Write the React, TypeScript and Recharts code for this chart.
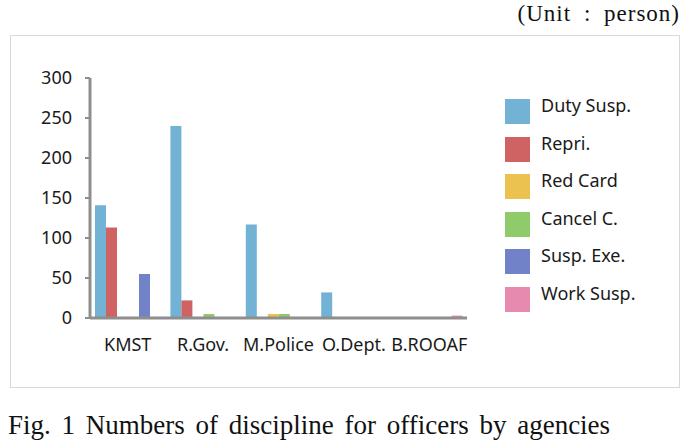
import React from 'react';
import { Bar, BarChart, XAxis, YAxis } from 'recharts';

const categories = ['KMST', 'R.Gov.', 'M.Police', 'O.Dept.', 'B.ROOAF'];
const dutySusp = [141, 240, 117, 32, 0];
const repri = [113, 22, 0, 0, 0];
const redCard = [0, 0, 5, 0, 0];
const cancelC = [0, 5, 5, 0, 0];
const suspExe = [55, 0, 0, 0, 0];
const workSusp = [0, 0, 0, 0, 3];
const seriesNames = ['Duty Susp.', 'Repri.', 'Red Card', 'Cancel C.', 'Susp. Exe.', 'Work Susp.'];
const yTicks = [0, 50, 100, 150, 200, 250, 300];

const seriesValues = [dutySusp, repri, redCard, cancelC, suspExe, workSusp];
const COLORS = ['#72b2d5', '#cf6262', '#ebc250', '#8fca6b', '#7282c9', '#e78aaf'];

const data = categories.map((name, i) => {
  const row: Record<string, string | number> = { name };
  seriesNames.forEach((s, j) => {
    row[s] = seriesValues[j][i];
  });
  return row;
});

const labelFont = '"Noto Sans", sans-serif';
const serif = '"Liberation Serif", "DejaVu Serif", serif';
const axisColor = '#8e8e8e';

export default function App() {
  return (
    <div style={{ position: 'absolute', left: 0, top: 0, width: 698, height: 441, background: '#fff' }}>
      <div
        style={{
          position: 'absolute',
          right: 18,
          top: 2,
          fontFamily: serif,
          fontSize: 23,
          lineHeight: '23px',
          letterSpacing: 1,
          wordSpacing: 6,
          color: '#111',
          whiteSpace: 'nowrap',
        }}
      >
        (Unit : person)
      </div>

      <div
        style={{
          position: 'absolute',
          left: 10,
          top: 35,
          width: 670,
          height: 353,
          boxSizing: 'border-box',
          border: '1.5px solid #d9d9d9',
        }}
      />

      <div style={{ position: 'absolute', left: 10, top: 35 }}>
        <BarChart
          width={670}
          height={352}
          data={data}
          barSize={11}
          barGap={0}
          margin={{ top: 43, right: 213, bottom: 39, left: 0 }}
        >
          <XAxis
            dataKey="name"
            axisLine={{ stroke: axisColor, strokeWidth: 3 }}
            tickLine={false}
            tickSize={0}
            tickMargin={20}
            interval={0}
            tick={{ fontFamily: labelFont, fontSize: 18, fill: '#1a1a1a' }}
          />
          <YAxis
            width={80}
            domain={[0, 300]}
            ticks={yTicks}
            interval={0}
            axisLine={{ stroke: axisColor, strokeWidth: 3 }}
            tickLine={{ stroke: axisColor, strokeWidth: 2 }}
            tickSize={5}
            tickMargin={13}
            tick={{ fontFamily: labelFont, fontSize: 18, fill: '#1a1a1a' }}
          />
          {seriesNames.map((s, j) => (
            <Bar key={s} dataKey={s} fill={COLORS[j]} isAnimationActive={false} />
          ))}
        </BarChart>
      </div>

      <div style={{ position: 'absolute', left: 505, top: 99 }}>
        {seriesNames.map((s, j) => (
          <div key={s} style={{ position: 'absolute', left: 0, top: j * 37.6, height: 25, width: 170 }}>
            <div style={{ position: 'absolute', left: 0, top: 0, width: 25, height: 25, background: COLORS[j] }} />
            <div
              style={{
                position: 'absolute',
                left: 36,
                top: -3,
                fontFamily: labelFont,
                fontSize: 18,
                lineHeight: '18px',
                color: '#1a1a1a',
                whiteSpace: 'nowrap',
              }}
            >
              {s}
            </div>
          </div>
        ))}
      </div>

      <div
        style={{
          position: 'absolute',
          left: 8,
          top: 412,
          fontFamily: serif,
          fontSize: 27,
          lineHeight: '27px',
          wordSpacing: 4,
          color: '#111',
          whiteSpace: 'nowrap',
        }}
      >
        Fig. 1 Numbers of discipline for officers by agencies
      </div>
    </div>
  );
}
